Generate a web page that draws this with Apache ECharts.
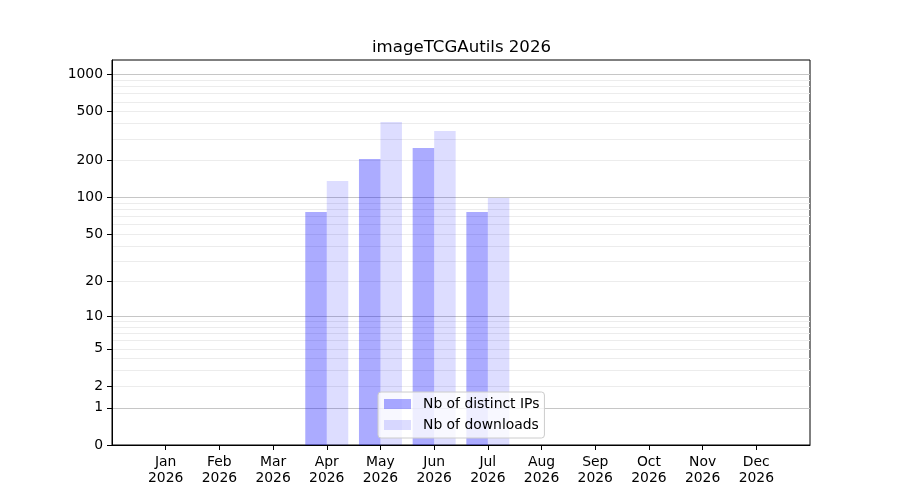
<!DOCTYPE html>
<html>
<head>
<meta charset="utf-8">
<script src="https://cdn.jsdelivr.net/npm/echarts@6/dist/echarts.min.js"></script>
<style>html,body{margin:0;padding:0;background:#fff}#chart{width:900px;height:500px}</style>
</head>
<body>
<div id="chart"></div>
<script>
// ---- data ----
const titleText = 'imageTCGAutils 2026';
const months = ['Jan','Feb','Mar','Apr','May','Jun','Jul','Aug','Sep','Oct','Nov','Dec'];
const year = '2026';
const distinctIPs = [0, 0, 0, 76, 206, 253, 76, 0, 0, 0, 0, 0];
const downloads   = [0, 0, 0, 136, 411, 348, 99, 0, 0, 0, 0, 0];
const yTickLabels = [0, 1, 2, 5, 10, 20, 50, 100, 200, 500, 1000];
const yMajorGrid  = [1, 10, 100, 1000];
const yMinorGrid  = [2,3,4,5,6,7,8,9,20,30,40,50,60,70,80,90,200,300,400,500,600,700,800,900];
const seriesNames = ['Nb of distinct IPs', 'Nb of downloads'];

// ---- scale: y = log10(1 + v) ----
const tf = v => Math.log10(1 + v);
const yMax = 3.117;
const FONT = 'DejaVu Sans';

const cats = [''].concat(months.map(m => m + '\n' + year)).concat(['']);
const pad = arr => [null].concat(arr.map(tf)).concat([null]);

function gridAxis(values, color) {
  return {
    type: 'value', min: 0, max: yMax, gridIndex: 0,
    axisLine: {show: false}, axisLabel: {show: false},
    axisTick: {show: false, customValues: values.map(tf)},
    splitLine: {show: true, lineStyle: {color: color, width: 1}}
  };
}

const chart = echarts.init(document.getElementById('chart'), null, {renderer: 'canvas'});
chart.setOption({
  animation: false,
  backgroundColor: '#fff',
  title: {
    text: titleText, left: 367, top: 34,
    textStyle: {fontFamily: FONT, fontSize: 16.6, fontWeight: 'normal', color: '#000'}
  },
  grid: {left: 112, right: 90, top: 60, bottom: 55, show: true, borderColor: '#000', borderWidth: 1, backgroundColor: 'transparent'},
  legend: {
    orient: 'vertical', left: 378, top: 392,
    data: seriesNames,
    icon: 'rect', itemWidth: 27, itemHeight: 10, itemGap: 7,
    padding: [5, 5, 6, 6],
    backgroundColor: 'rgba(255,255,255,0.8)', borderColor: '#cccccc', borderWidth: 1, borderRadius: 3,
    textStyle: {fontFamily: FONT, fontSize: 13.9, color: '#000', padding: [0, 0, 0, 7]}
  },
  xAxis: {
    type: 'category', data: cats, boundaryGap: false,
    axisLine: {show: true, lineStyle: {color: '#000', width: 1}},
    axisTick: {show: true, length: 5, lineStyle: {color: '#000'}, interval: (i, v) => v !== ''},
    axisLabel: {interval: 0, margin: 9, fontFamily: FONT, fontSize: 13.9, lineHeight: 16, color: '#000'},
    splitLine: {show: false}
  },
  yAxis: [
    {
      type: 'value', min: 0, max: yMax,
      axisLine: {show: true, lineStyle: {color: '#000', width: 1}},
      axisTick: {show: true, length: 5, lineStyle: {color: '#000'}, customValues: yTickLabels.map(tf)},
      axisLabel: {
        customValues: yTickLabels.map(tf), margin: 9,
        fontFamily: FONT, fontSize: 13.9, color: '#000',
        formatter: v => String(Math.round(Math.pow(10, v) - 1))
      },
      splitLine: {show: false}
    },
    gridAxis(yMinorGrid, '#ececec'),
    gridAxis(yMajorGrid, '#c6c6c6')
  ],
  series: [
    {
      name: seriesNames[0], type: 'bar', yAxisIndex: 0, data: pad(distinctIPs),
      barWidth: 21.5, barGap: '0%',
      itemStyle: {color: 'rgba(0,0,255,0.33)'}
    },
    {
      name: seriesNames[1], type: 'bar', yAxisIndex: 0, data: pad(downloads),
      barWidth: 21.5, barGap: '0%',
      itemStyle: {color: 'rgba(0,0,255,0.135)'}
    }
  ]
});
</script>
</body>
</html>
